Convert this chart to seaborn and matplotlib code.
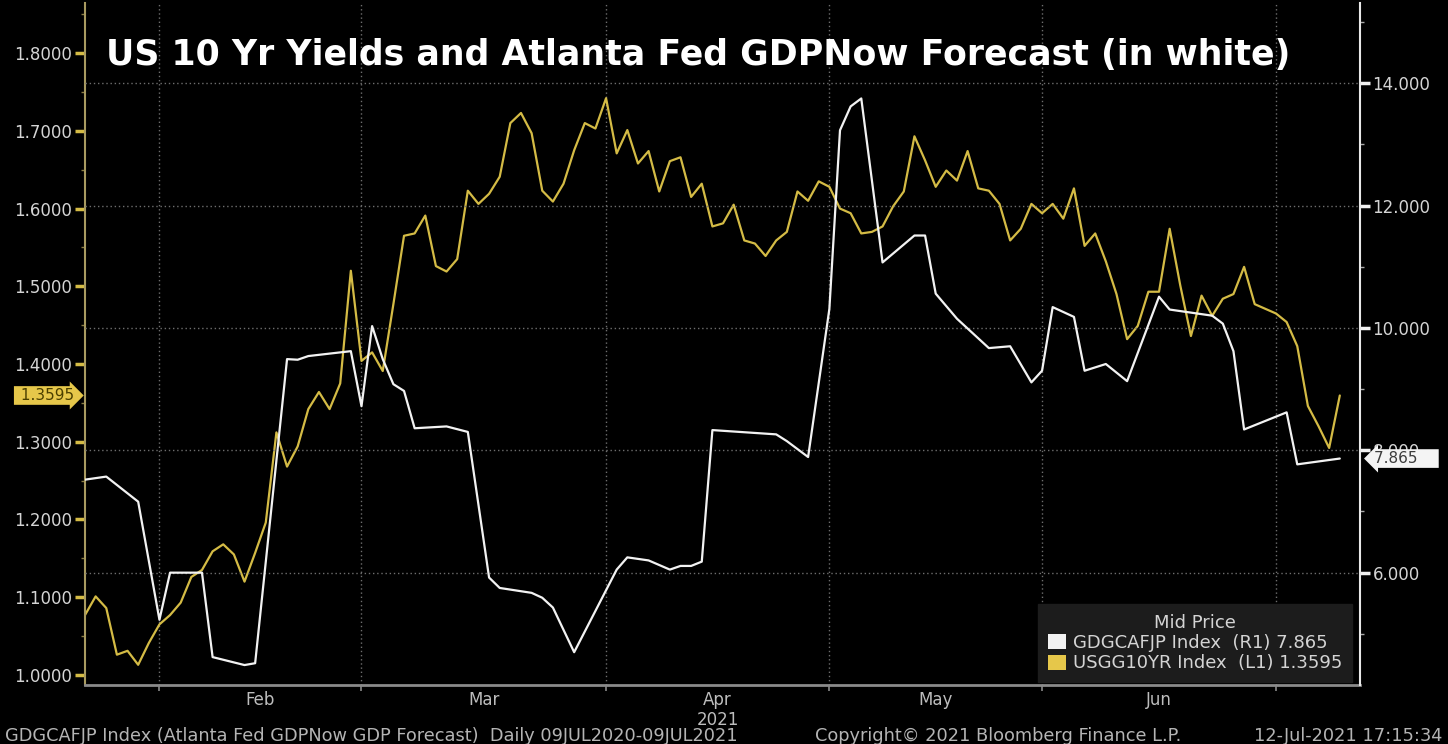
import numpy as np
import pandas as pd
import seaborn as sns
import matplotlib.pyplot as plt
from matplotlib.patches import Patch
from matplotlib.ticker import MultipleLocator, FormatStrFormatter

# trading days on the chart (holidays have no print)
start_day = "2021-01-20"
end_day = "2021-07-09"
holidays = ["2021-02-15", "2021-04-02", "2021-05-31", "2021-07-05"]
month_names = ["Feb", "Mar", "Apr\n2021", "May", "Jun"]

# USGG10YR Index, one value per trading day (left axis)
yield_10y = [
    1.077, 1.101, 1.086, 1.026, 1.031, 1.013, 1.041, 1.065,            # Jan
    1.077, 1.093, 1.126, 1.135, 1.159, 1.168, 1.155, 1.120, 1.157, 1.196,
    1.312, 1.268, 1.294, 1.342, 1.364, 1.342, 1.375, 1.520, 1.404,     # Feb
    1.415, 1.391, 1.477, 1.565, 1.568, 1.591, 1.526, 1.519, 1.535, 1.623,
    1.606, 1.619, 1.641, 1.710, 1.723, 1.697, 1.623, 1.609, 1.632, 1.675,
    1.710, 1.703, 1.742,                                               # Mar
    1.671, 1.701, 1.658, 1.674, 1.622, 1.661, 1.666, 1.615, 1.632, 1.577,
    1.581, 1.605, 1.559, 1.555, 1.539, 1.559, 1.570, 1.622, 1.610, 1.635,
    1.628,                                                             # Apr
    1.600, 1.594, 1.568, 1.570, 1.577, 1.603, 1.622, 1.693, 1.662, 1.628,
    1.649, 1.636, 1.674, 1.626, 1.623, 1.606, 1.559, 1.574, 1.606, 1.594,  # May
    1.606, 1.587, 1.626, 1.552, 1.568, 1.532, 1.490, 1.432, 1.449, 1.493,
    1.493, 1.574, 1.501, 1.436, 1.488, 1.462, 1.484, 1.490, 1.525, 1.477,
    1.471, 1.465,                                                      # Jun
    1.454, 1.423, 1.346, 1.320, 1.292, 1.3595,                         # Jul
]

# GDGCAFJP Index (Atlanta Fed GDPNow), trading-day position of each update (right axis)
gdp_pos = [0, 2, 5, 7, 8, 11, 12, 15, 16, 19, 20, 21, 25, 26, 27, 28, 29, 30,
           31, 34, 36, 38, 39, 42, 43, 44, 46, 50, 51, 53, 55, 56, 57, 58, 59,
           65, 66, 68, 70, 71, 72, 73, 75, 78, 79, 80, 82, 85, 87, 89, 90, 91,
           93, 94, 96, 98, 101, 102, 106, 107, 108, 109, 113, 114, 118]
gdp_now = [7.52, 7.57, 7.16, 5.23, 6.00, 6.00, 4.62, 4.49, 4.52, 9.49, 9.48,
           9.54, 9.62, 8.72, 10.03, 9.49, 9.08, 8.97, 8.36, 8.39, 8.30, 5.92,
           5.75, 5.67, 5.59, 5.43, 4.70, 6.05, 6.25, 6.20, 6.05, 6.11, 6.11,
           6.18, 8.33, 8.26, 8.15, 7.89, 10.31, 13.23, 13.62, 13.75, 11.07,
           11.51, 11.51, 10.56, 10.15, 9.67, 9.70, 9.11, 9.30, 10.34, 10.18,
           9.30, 9.41, 9.13, 10.51, 10.30, 10.20, 10.07, 9.62, 8.34, 8.62,
           7.77, 7.865]

last_yield = 1.3595
last_gdp = 7.865

yellow = "#d4bb45"
white = "#f2f2f2"
txt = "#d4d4d4"

dates = pd.bdate_range(start_day, end_day)
dates = dates[~dates.isin(pd.to_datetime(holidays))]
pos = np.arange(len(dates))

df_yield = pd.DataFrame({"pos": pos, "value": yield_10y})
df_gdp = pd.DataFrame({"pos": gdp_pos, "value": gdp_now})

# last trading day of each month -> vertical gridlines
day_pos = pd.Series(pos, index=dates)
month_end = day_pos.groupby(day_pos.index.to_period("M")).max().values[:-1]
month_mid = (month_end[:-1] + month_end[1:]) / 2

sns.set_style("dark", rc={"axes.facecolor": "black", "figure.facecolor": "black",
                          "axes.edgecolor": "#888888", "text.color": txt,
                          "xtick.color": txt, "ytick.color": txt})
plt.rcParams["font.family"] = ["DejaVu Sans"]

fig = plt.figure(figsize=(14.48, 7.44), dpi=100)
ax = fig.add_axes([85 / 1448, 59 / 744, 1275 / 1448, 682 / 744])
ax2 = ax.twinx()

sns.lineplot(data=df_yield, x="pos", y="value", ax=ax, color=yellow, lw=1.6)
sns.lineplot(data=df_gdp, x="pos", y="value", ax=ax2, color=white, lw=1.6)

ax.set_xlim(0, 119.9)
ax.set_ylim(0.987, 1.8645)
ax2.set_ylim(4.164, 15.31)
for a in (ax, ax2):
    a.set_xlabel("")
    a.set_ylabel("")

# left axis (yield)
ax.yaxis.set_major_locator(MultipleLocator(0.1))
ax.yaxis.set_minor_locator(MultipleLocator(0.05))
ax.yaxis.set_major_formatter(FormatStrFormatter("%.4f"))
ax.tick_params(axis="y", which="major", length=7, width=2.5, color=yellow,
               labelsize=12, labelcolor=txt, pad=2)
ax.tick_params(axis="y", which="minor", length=3, width=1, color="#8a7d45", left=True)

# right axis (GDPNow)
ax2.yaxis.set_minor_locator(MultipleLocator(1))
ax2.yaxis.set_major_formatter(FormatStrFormatter("%.3f"))
ax2.set_yticks(np.arange(6, 15, 2))
ax2.tick_params(axis="y", which="major", length=7, width=2.5, color=white,
                labelsize=12, labelcolor=txt, pad=2)
ax2.tick_params(axis="y", which="minor", length=3, width=1, color="#aaaaaa", right=True)

# x axis: ticks at month ends, labels mid-month
ax.set_xticks(month_end)
ax.set_xticklabels([""] * len(month_end))
ax.set_xticks(month_mid, minor=True)
ax.set_xticklabels(month_names, minor=True)
ax.tick_params(axis="x", which="major", length=4, width=1.2, color="#888888", bottom=True)
ax.tick_params(axis="x", which="minor", length=0, labelsize=12, labelcolor="#bdbdbd", pad=4)

ax.grid(axis="x", which="major", color="#6e6e6e", ls=(0, (1, 2)), lw=1)
ax.grid(axis="y", visible=False)
ax2.grid(axis="y", which="major", color="#6e6e6e", ls=(0, (1, 2)), lw=1)
ax.set_axisbelow(True)

ax.spines["left"].set_color("#a89a60")
ax.spines["left"].set_linewidth(1.5)
ax.spines["bottom"].set_color("#8a8a8a")
ax.spines["bottom"].set_linewidth(2)
for side in ("top", "right"):
    ax.spines[side].set_visible(False)
for side in ("top", "left", "bottom"):
    ax2.spines[side].set_visible(False)
ax2.spines["right"].set_color("#e8e8e8")
ax2.spines["right"].set_linewidth(1.5)

# last value tags
ax.annotate(f" {last_yield:.4f}", xy=(0, last_yield), xycoords=("axes fraction", "data"),
            xytext=(-8, 0), textcoords="offset points", ha="right", va="center",
            fontsize=11, color="#4a3f00",
            bbox=dict(boxstyle="rarrow,pad=0.12", fc="#e6c74a", ec="none"),
            annotation_clip=False)
ax2.annotate(f"{last_gdp:.3f}    ", xy=(1, last_gdp), xycoords=("axes fraction", "data"),
             xytext=(10, 0), textcoords="offset points", ha="left", va="center",
             fontsize=11, color="#3c3c3c",
             bbox=dict(boxstyle="larrow,pad=0.12", fc="#f4f4f4", ec="none"),
             annotation_clip=False, zorder=10)

# legend
handles = [Patch(facecolor=white, edgecolor="none"), Patch(facecolor="#e6c74a", edgecolor="none")]
labels = [f"GDGCAFJP Index  (R1) {last_gdp:.3f}", f"USGG10YR Index  (L1) {last_yield:.4f}"]
leg = ax2.legend(handles, labels, title="Mid Price", loc="lower right",
                 bbox_to_anchor=(0.994, 0.004), borderaxespad=0, fontsize=13,
                 title_fontsize=13, labelcolor=txt, facecolor="#1c1c1c",
                 edgecolor="#1c1c1c", framealpha=1, fancybox=False,
                 handlelength=1.0, handleheight=0.9, handletextpad=0.4,
                 labelspacing=0.12, borderpad=0.55)
leg.get_title().set_color(txt)

fig.text(106 / 1448, 1 - 55 / 744, "US 10 Yr Yields and Atlanta Fed GDPNow Forecast (in white)",
         fontsize=25, fontweight="bold", color="white", ha="left", va="center")

foot = 1 - 736 / 744
fig.text(5 / 1448, foot, "GDGCAFJP Index (Atlanta Fed GDPNow GDP Forecast)  Daily 09JUL2020-09JUL2021",
         fontsize=12.8, color="#b4b4b4", ha="left", va="center")
fig.text(815 / 1448, foot, "Copyright\u00a9 2021 Bloomberg Finance L.P.",
         fontsize=12.8, color="#b4b4b4", ha="left", va="center")
fig.text(1442 / 1448, foot, "12-Jul-2021 17:15:34",
         fontsize=12.8, color="#b4b4b4", ha="right", va="center")

fig.savefig("out.png", dpi=100, facecolor="black")
